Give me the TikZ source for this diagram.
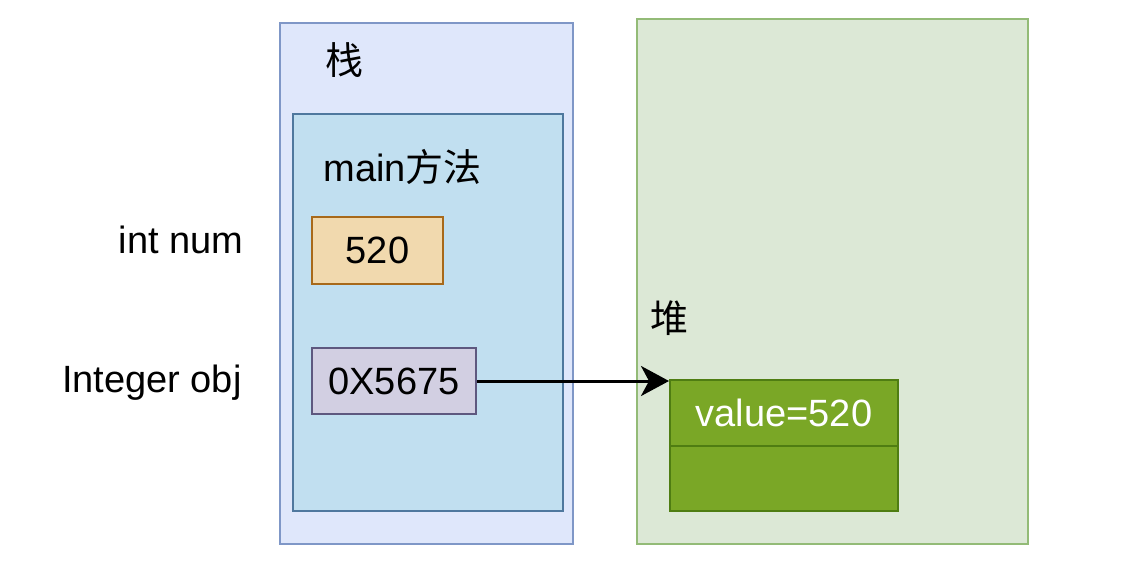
\documentclass[tikz,border=0pt]{standalone}
\usepackage{fontspec}
\setmainfont{Liberation Sans}
\newfontfamily\cjk{Noto Sans CJK SC}
\usetikzlibrary{arrows.meta}

\definecolor{stackfill}{HTML}{DFE7FB}
\definecolor{stackline}{HTML}{7F97C7}
\definecolor{mainfill}{HTML}{C1DFF0}
\definecolor{mainline}{HTML}{4F789E}
\definecolor{numfill}{HTML}{F1D9AE}
\definecolor{numline}{HTML}{A8691A}
\definecolor{objfill}{HTML}{D2CFE2}
\definecolor{objline}{HTML}{5E587F}
\definecolor{heapfill}{HTML}{DCE8D6}
\definecolor{heapline}{HTML}{93BB77}
\definecolor{valfill}{HTML}{7AA726}
\definecolor{valline}{HTML}{4F7D12}

\tikzset{
  box/.style={draw,line width=1bp,inner sep=0pt},
  lbl/.style={inner sep=0pt,font=\fontsize{19bp}{22bp}\selectfont},
}

\begin{document}
\begin{tikzpicture}[x=0.5bp,y=-0.5bp]
    \useasboundingbox (0,0) rectangle (1134,568);

    \node (stack) at (426.5,283.5)[box,draw=stackline,fill=stackfill,minimum width=146.5bp,minimum height=260.5bp] {};
    \node (main) at (428,312.5)[box,draw=mainline,fill=mainfill,minimum width=135bp,minimum height=198.5bp] {};
    \node (heap) at (832.5,281.5)[box,draw=heapline,fill=heapfill,minimum width=195.5bp,minimum height=262.5bp] {};

    \node (stacklbl) at (344,60)[lbl] {\cjk 栈};
    \node (mainlbl) at (323,167)[lbl,anchor=west] {main{\cjk 方法}};
    \node (heaplbl) at (669,318)[lbl] {\cjk 堆};
    \node (numlbl) at (244,240)[lbl,anchor=east] {int num};
    \node (objlbl) at (242,383)[lbl,anchor=east] {Integer obj};

    \node (num) at (377.5,250.5)[box,lbl,draw=numline,fill=numfill,minimum width=65.5bp,minimum height=33.5bp] {520};
    \node (obj) at (394,381)[box,lbl,draw=objline,fill=objfill,minimum width=82bp,minimum height=33bp] {0X5675};
    \node (valtop) at (784,413)[box,lbl,draw=valline,fill=valfill,text=white,minimum width=114bp,minimum height=33bp] {value=520};
    \node (valbot) at (784,478.5)[box,draw=valline,fill=valfill,minimum width=114bp,minimum height=32.5bp] {};

    \draw [-{Stealth[length=14bp,width=15bp,inset=4bp]},line width=1.5bp] (obj.east) to (obj.east -| valtop.west);
\end{tikzpicture}
\end{document}
